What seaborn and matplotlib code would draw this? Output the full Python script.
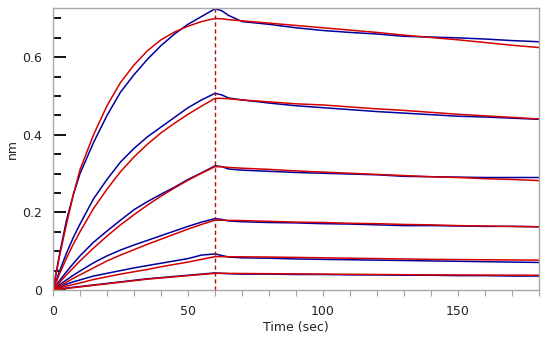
import matplotlib
matplotlib.use("Agg")
import matplotlib.pyplot as plt
from matplotlib.ticker import MultipleLocator, FuncFormatter
import seaborn as sns

# time points (sec)
times = [0, 2.5, 5, 7.5, 10, 15, 20, 25, 30, 35, 40, 45, 50, 55, 60,
         62.5, 65, 70, 80, 90, 100, 110, 120, 130, 140, 150, 160, 170, 180]

# measured responses (blue), nm
meas1 = [0, .095, .18, .245, .30, .38, .45, .51, .555, .595, .63, .66, .685, .705, .725,
         .72, .708, .692, .685, .676, .669, .664, .660, .654, .652, .650, .647, .643, .640]
meas2 = [0, .05, .095, .135, .17, .235, .285, .33, .365, .395, .42, .445, .47, .49, .507,
         .503, .495, .49, .482, .475, .47, .465, .46, .456, .452, .448, .446, .443, .44]
meas3 = [0, .025, .047, .068, .088, .123, .152, .18, .207, .228, .247, .265, .285, .302, .32,
         .318, .312, .309, .306, .303, .301, .299, .297, .293, .292, .291, .29, .29, .29]
meas4 = [0, .014, .026, .038, .049, .07, .088, .103, .116, .128, .14, .152, .164, .175, .184,
         .182, .178, .176, .174, .173, .171, .17, .168, .166, .166, .165, .164, .164, .163]
meas5 = [0, .008, .015, .021, .026, .036, .043, .05, .057, .063, .069, .075, .081, .09, .093,
         .089, .085, .083, .082, .08, .079, .078, .077, .076, .075, .074, .073, .072, .071]
meas6 = [0, .003, .005, .007, .009, .013, .017, .021, .025, .029, .032, .035, .038, .041, .044,
         .043, .042, .041, .041, .04, .04, .039, .039, .038, .038, .037, .037, .036, .036]

# fitted curves (red), nm
fit1 = [0, .09, .17, .245, .31, .40, .475, .535, .58, .617, .645, .665, .68, .692, .700,
        .699, .697, .694, .688, .682, .676, .670, .664, .657, .651, .645, .638, .631, .625]
fit2 = [0, .043, .082, .118, .15, .21, .26, .305, .343, .376, .405, .43, .453, .474, .494,
        .494, .493, .49, .485, .48, .477, .472, .467, .463, .458, .453, .449, .445, .441]
fit3 = [0, .02, .039, .057, .075, .108, .139, .168, .194, .219, .242, .263, .283, .301, .318,
        .3178, .316, .314, .311, .307, .304, .301, .298, .295, .292, .29, .287, .285, .282]
fit4 = [0, .01, .02, .03, .039, .057, .075, .09, .104, .118, .131, .144, .157, .169, .18,
        .1798, .1795, .179, .177, .175, .174, .172, .171, .169, .168, .166, .165, .164, .163]
fit5 = [0, .005, .01, .014, .018, .027, .034, .041, .047, .053, .06, .066, .072, .079, .086,
        .086, .0858, .0855, .085, .084, .083, .082, .081, .08, .079, .0785, .078, .0775, .077]
fit6 = [0, .002, .004, .006, .008, .012, .016, .02, .024, .028, .031, .034, .037, .04, .043,
        .043, .0428, .0425, .042, .0415, .041, .0405, .04, .0395, .039, .0388, .0385, .0383, .038]

measured = [meas1, meas2, meas3, meas4, meas5, meas6]
fitted = [fit1, fit2, fit3, fit4, fit5, fit6]
switch_time = 60

sns.set_style("ticks")
plt.rcParams['font.family'] = ['DejaVu Sans']

fig = plt.figure(figsize=(5.49, 3.40), dpi=100)
ax = fig.add_axes([53/549, 50/340, 486/549, 282/340])

for m in measured:
    sns.lineplot(x=times, y=m, ax=ax, color="#0000a0", linewidth=1.1, estimator=None)
for f in fitted:
    sns.lineplot(x=times, y=f, ax=ax, color="#d40000", linewidth=1.1, estimator=None)

ax.axvline(switch_time, color="#b01010", linewidth=1.0, linestyle=(0, (3, 2)))

ax.set_xlim(0, 180)
ax.set_ylim(0, 0.727)

ax.xaxis.set_major_locator(MultipleLocator(50))
ax.xaxis.set_minor_locator(MultipleLocator(10))
ax.yaxis.set_major_locator(MultipleLocator(0.2))
ax.yaxis.set_minor_locator(MultipleLocator(0.05))
ax.yaxis.set_major_formatter(FuncFormatter(lambda v, p: f"{v:g}"))
ax.xaxis.set_major_formatter(FuncFormatter(lambda v, p: f"{v:g}"))

ax.tick_params(axis="x", which="both", direction="out", length=4, width=0.8,
               color="#a0a0a0", labelsize=9, labelcolor="#222222", pad=7,
               bottom=True, top=False)
ax.tick_params(axis="y", which="major", direction="in", length=9, width=1.3,
               color="#000000", labelsize=9, labelcolor="#222222", pad=8,
               left=True, right=False)
ax.tick_params(axis="y", which="minor", direction="in", length=6, width=1.3,
               color="#000000", left=True, right=False)

for s in ax.spines.values():
    s.set_visible(True)
    s.set_color("#a8a8a8")
    s.set_linewidth(1.0)

ax.set_xlabel("Time (sec)", fontsize=9, color="#222222", labelpad=2)
ax.set_ylabel("nm", fontsize=9, color="#222222")
ax.yaxis.set_label_coords(-34/486, 0.5)

fig.savefig("out.png", dpi=100, facecolor="white")
